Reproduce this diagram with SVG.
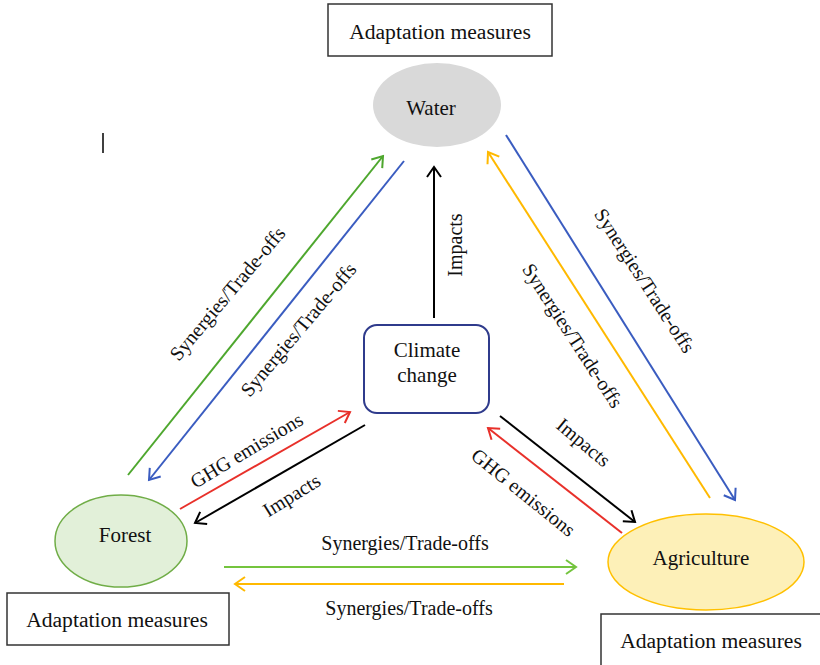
<svg xmlns="http://www.w3.org/2000/svg" width="820" height="665" viewBox="0 0 820 665">
<style>
text{font-family:"Liberation Serif","Times New Roman",serif;font-size:20px;fill:#111;text-anchor:middle}
.node{font-size:21px}
.btxt{font-size:21.6px}
.box{fill:#fff;stroke:#333;stroke-width:1.5}
.ln{fill:none;stroke-width:2}
</style>
<defs>
<marker id="hBlack" markerUnits="userSpaceOnUse" markerWidth="14" markerHeight="18" refX="11" refY="8" orient="auto" viewBox="0 0 14 16"><path d="M1,1 L11,8 L1,15" fill="none" stroke="#000" stroke-width="2"/></marker>
<marker id="hGreen" markerUnits="userSpaceOnUse" markerWidth="14" markerHeight="18" refX="11" refY="8" orient="auto" viewBox="0 0 14 16"><path d="M1,1 L11,8 L1,15" fill="none" stroke="#4ea72e" stroke-width="2"/></marker>
<marker id="hGreen2" markerUnits="userSpaceOnUse" markerWidth="14" markerHeight="18" refX="11" refY="8" orient="auto" viewBox="0 0 14 16"><path d="M1,1 L11,8 L1,15" fill="none" stroke="#74c43e" stroke-width="2"/></marker>
<marker id="hBlue" markerUnits="userSpaceOnUse" markerWidth="14" markerHeight="18" refX="11" refY="8" orient="auto" viewBox="0 0 14 16"><path d="M1,1 L11,8 L1,15" fill="none" stroke="#3a5cc0" stroke-width="2"/></marker>
<marker id="hRed" markerUnits="userSpaceOnUse" markerWidth="14" markerHeight="18" refX="11" refY="8" orient="auto" viewBox="0 0 14 16"><path d="M1,1 L11,8 L1,15" fill="none" stroke="#e8302a" stroke-width="2"/></marker>
<marker id="hYellow" markerUnits="userSpaceOnUse" markerWidth="14" markerHeight="18" refX="11" refY="8" orient="auto" viewBox="0 0 14 16"><path d="M1,1 L11,8 L1,15" fill="none" stroke="#ffb900" stroke-width="2"/></marker>
</defs>
<rect width="820" height="665" fill="#fff"/>

<g id="connectors">
<line class="ln" x1="128" y1="475" x2="383" y2="156" stroke="#4ea72e" marker-end="url(#hGreen)"/>
<line class="ln" x1="404" y1="161" x2="149" y2="480" stroke="#3a5cc0" marker-end="url(#hBlue)"/>
<line class="ln" x1="180" y1="509" x2="350" y2="412" stroke="#e8302a" marker-end="url(#hRed)"/>
<line class="ln" x1="365" y1="425" x2="195" y2="523" stroke="#000" marker-end="url(#hBlack)"/>
<line class="ln" x1="434" y1="318" x2="434" y2="167" stroke="#000" marker-end="url(#hBlack)"/>
<line class="ln" x1="506" y1="135" x2="735" y2="500" stroke="#3a5cc0" marker-end="url(#hBlue)"/>
<line class="ln" x1="710" y1="498" x2="488" y2="152" stroke="#ffb900" marker-end="url(#hYellow)"/>
<line class="ln" x1="500" y1="416" x2="635" y2="522" stroke="#000" marker-end="url(#hBlack)"/>
<line class="ln" x1="622" y1="533" x2="488" y2="428" stroke="#e8302a" marker-end="url(#hRed)"/>
<line class="ln" x1="224" y1="567" x2="576" y2="567" stroke="#74c43e" marker-end="url(#hGreen2)"/>
<line class="ln" x1="564" y1="584" x2="235" y2="584" stroke="#ffb900" marker-end="url(#hYellow)"/>

<text transform="translate(228,294) rotate(-50)" y="6">Synergies/Trade-offs</text>
<text transform="translate(299,330) rotate(-50)" y="6">Synergies/Trade-offs</text>
<text transform="translate(247,451) rotate(-31)" y="6">GHG emissions</text>
<text transform="translate(292,496) rotate(-32)" y="6">Impacts</text>
<text transform="translate(462,245) rotate(-90)">Impacts</text>
<text transform="translate(644,281) rotate(57)" y="6">Synergies/Trade-offs</text>
<text transform="translate(572,336) rotate(57)" y="6">Synergies/Trade-offs</text>
<text transform="translate(583,443) rotate(40)" y="6">Impacts</text>
<text transform="translate(523,493) rotate(39)" y="6">GHG emissions</text>
<text x="405" y="550">Synergies/Trade-offs</text>
<text x="409" y="615">Synergies/Trade-offs</text>
</g>

<line x1="103" y1="133" x2="103" y2="153" stroke="#000" stroke-width="1.5"/>

<g id="water">
<rect class="box" x="328" y="4" width="224" height="52"/>
<text class="btxt" x="440" y="39">Adaptation measures</text>
<ellipse cx="437" cy="105" rx="64" ry="42" fill="#d9d9d9"/>
<text class="node" x="431" y="115">Water</text>
</g>

<g id="climate">
<rect x="364" y="325" width="125" height="88" rx="13" fill="#fff" stroke="#2f3b8c" stroke-width="2"/>
<text class="node" x="427" y="357">Climate</text>
<text class="node" x="427" y="382">change</text>
</g>

<g id="forest">
<ellipse cx="121" cy="541" rx="66" ry="46" fill="#e2f0d9" stroke="#70ad47" stroke-width="1.5"/>
<text class="node" x="125" y="542">Forest</text>
<rect class="box" x="7" y="593" width="222" height="52"/>
<text class="btxt" x="117" y="627">Adaptation measures</text>
</g>

<g id="agriculture">
<ellipse cx="706" cy="562" rx="98" ry="48" fill="#fdf0b8" stroke="#ffc000" stroke-width="1.5"/>
<text class="node" x="701" y="565">Agriculture</text>
<rect class="box" x="601" y="614" width="230" height="60"/>
<text class="btxt" x="711" y="648">Adaptation measures</text>
</g>
</svg>
